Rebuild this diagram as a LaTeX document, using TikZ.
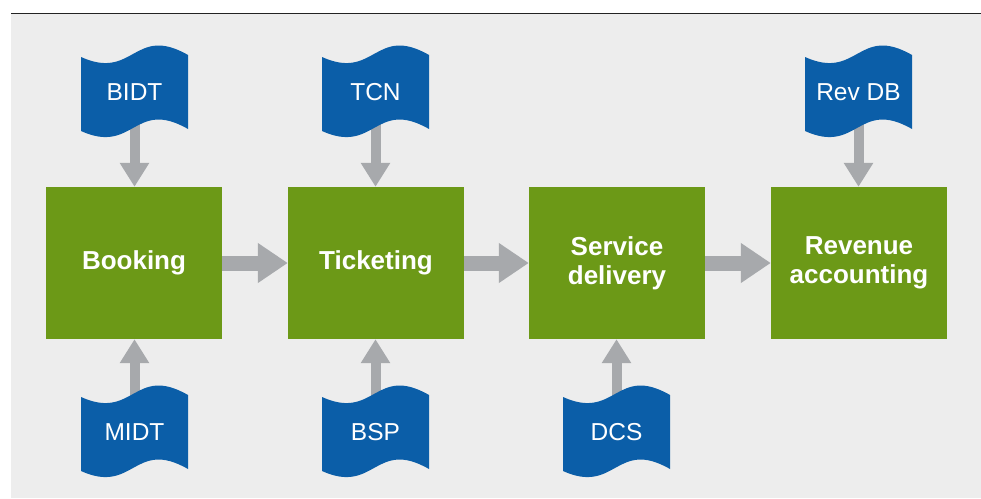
\documentclass[tikz,border=0pt]{standalone}
\usepackage{fontspec}
\setmainfont{Liberation Sans}
\usetikzlibrary{arrows.meta}
\definecolor{boxgreen}{RGB}{108,153,23}
\definecolor{flagblue}{RGB}{11,94,168}
\definecolor{arrowgray}{RGB}{167,169,172}
\definecolor{bggray}{RGB}{237,237,237}
\definecolor{rulecol}{RGB}{35,35,35}
\pgfdeclarelayer{bg}
\pgfdeclarelayer{arrowlayer}
\pgfsetlayers{bg,arrowlayer,main}
\tikzset{
  procbox/.style={fill=boxgreen, draw=none, minimum width=176pt, minimum height=152pt,
    inner sep=0pt, text=white, font=\fontsize{26}{29}\selectfont\bfseries, align=center},
  flagtext/.style={text=white, font=\fontsize{24.5}{28}\selectfont, inner sep=0pt},
  varrow/.style={draw=arrowgray, line width=10pt, -{Triangle[width=28pt,length=24pt]}},
  harrow/.style={draw=arrowgray, line width=15pt, -{Triangle[width=38pt,length=30pt]}},
  flagshape/.style={fill=flagblue, draw=none}
}
% flag: #1 = x of left edge, #2 = y of top-left corner (y downward)
\newcommand{\flagpath}[2]{%
  \fill[flagshape] (#1,#2) .. controls ({#1+53},{#2+24}) and ({#1+53},{#2-33}) .. ({#1+107},{#2-2})
    -- ({#1+107},{#2+72}) .. controls ({#1+53},{#2+41}) and ({#1+53},{#2+98}) .. (#1,{#2+74}) -- cycle;}
\begin{document}
\begin{tikzpicture}[x=1pt, y=-1pt]
\useasboundingbox (0,0) rectangle (981,498);
\begin{pgfonlayer}{bg}
  \fill[bggray] (11,14) rectangle (981,498);
  \draw[rulecol, line width=1.5pt] (11,13.5) -- (981,13.5);
\end{pgfonlayer}

% process boxes
\node[procbox] (booking)   at (134,263) {Booking};
\node[procbox] (ticketing) at (376,263) {Ticketing};
\node[procbox] (service)   at (617,263) {Service\\delivery};
\node[procbox] (revenue)   at (859,263) {Revenue\\accounting};

% flags
\flagpath{81}{57}
\flagpath{322}{57}
\flagpath{805}{57}
\flagpath{81}{397}
\flagpath{322}{397}
\flagpath{563}{397}
\node[flagtext] (bidt) at (134.5,92.5) {BIDT};
\node[flagtext] (tcn)  at (375.5,92.5) {TCN};
\node[flagtext] (revdb) at (858.5,92.5) {Rev DB};
\node[flagtext] (midt) at (134.5,432.5) {MIDT};
\node[flagtext] (bsp)  at (375.5,432.5) {BSP};
\node[flagtext] (dcs)  at (616.5,432.5) {DCS};

\begin{pgfonlayer}{arrowlayer}
  \draw[harrow] (booking.east) -- (ticketing.west);
  \draw[harrow] (ticketing.east) -- (service.west);
  \draw[harrow] (service.east) -- (revenue.west);
  \draw[varrow] (bidt.center) -- (bidt.center |- booking.north);
  \draw[varrow] (tcn.center) -- (tcn.center |- ticketing.north);
  \draw[varrow] (revdb.center) -- (revdb.center |- revenue.north);
  \draw[varrow] (midt.center) -- (midt.center |- booking.south);
  \draw[varrow] (bsp.center) -- (bsp.center |- ticketing.south);
  \draw[varrow] (dcs.center) -- (dcs.center |- service.south);
\end{pgfonlayer}
\end{tikzpicture}
\end{document}
